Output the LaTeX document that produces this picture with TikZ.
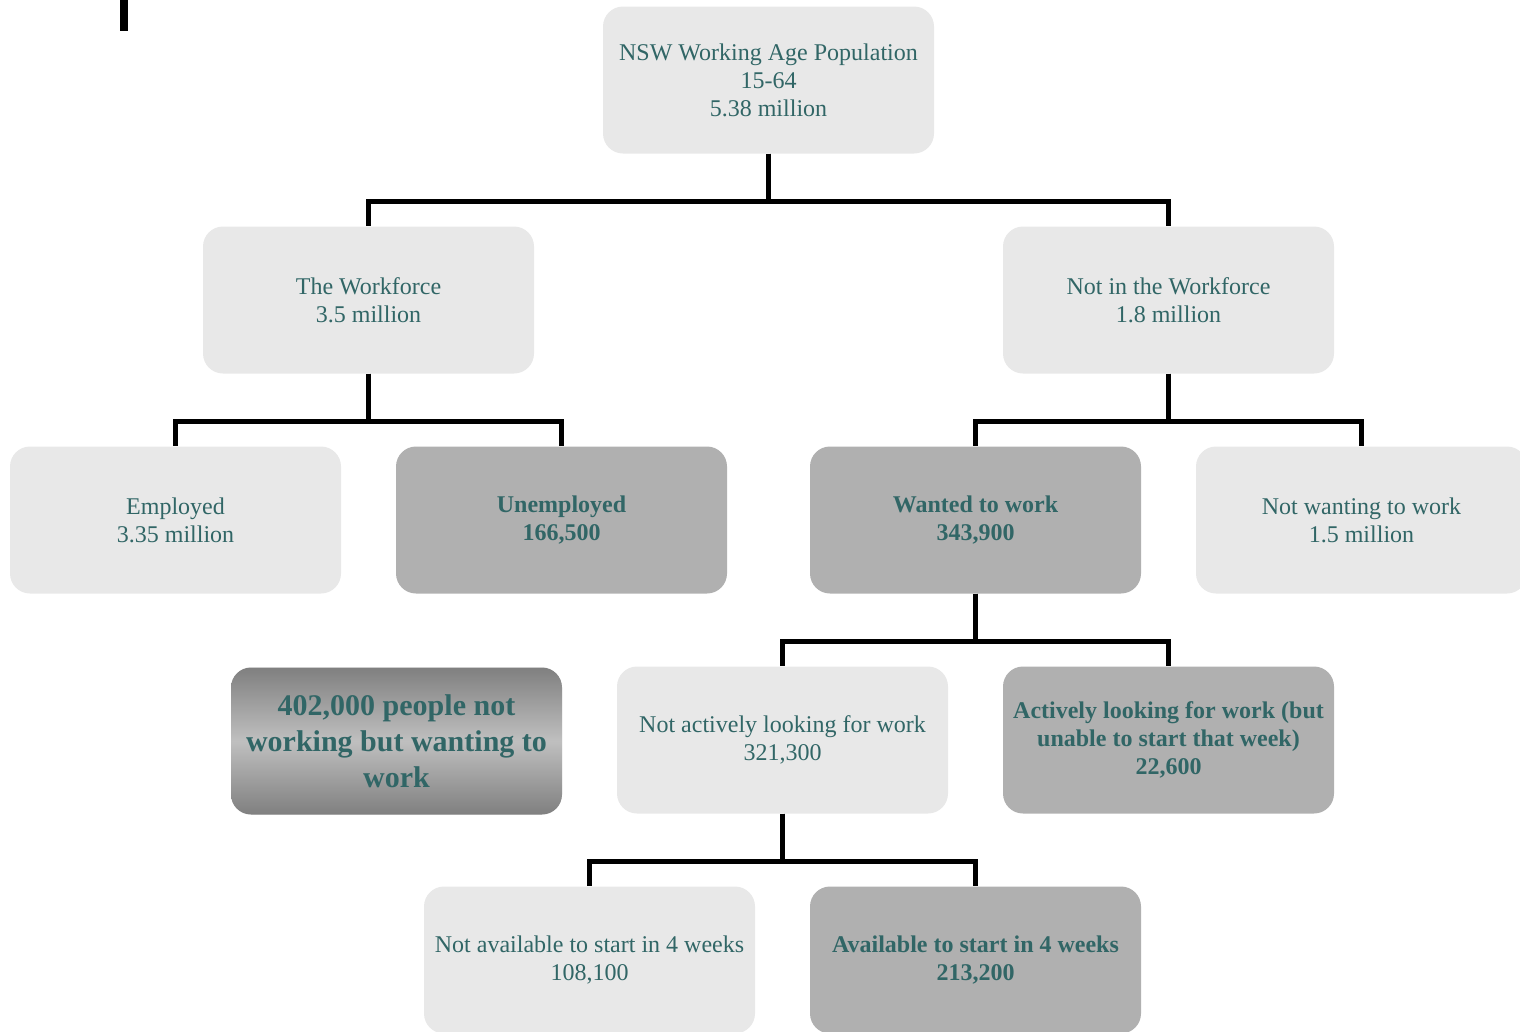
\documentclass[tikz,border=0pt]{standalone}
\usepackage{fontspec}
\setmainfont{Liberation Serif}
\usepackage{tikz}

\definecolor{boxtext}{HTML}{316666}
\definecolor{boxlight}{HTML}{E8E8E8}
\definecolor{boxdark}{HTML}{B0B0B0}

\begin{document}
\begin{tikzpicture}
[x=1pt, y=1pt,
level distance=220pt,
every node/.style={rounded corners=20pt, minimum width=331pt, minimum height=147pt,
  inner sep=2pt, align=center, text=boxtext, fill=boxlight,
  font=\rmfamily\fontsize{24}{28}\selectfont},
level 1/.style={sibling distance=800pt},
level 2/.style={sibling distance=386pt},
level 3/.style={sibling distance=386pt},
level 4/.style={sibling distance=386pt},
dark/.style={fill=boxdark, font=\rmfamily\fontsize{24}{28}\selectfont\bfseries},
edge from parent/.style={draw, black, line width=5pt},
edge from parent path={(\tikzparentnode.south) |- ([yshift=25pt]\tikzchildnode.north) -- (\tikzchildnode.north)}]

\useasboundingbox (0,0) rectangle (1520,-1031);
\fill[black] (120,0) rectangle (128,-31);

\node (pop) at (768.5,-80) {NSW Working Age Population\\15-64\\5.38 million}
child {node (wf) {The Workforce\\3.5 million}
    child {node (emp) {Employed\\3.35 million}}
    child {node[dark] (unemp) {Unemployed\\166,500}}
}
child {node (nwf) {Not in the Workforce\\1.8 million}
    child {node[dark] (want) {Wanted to work\\343,900}
     child {node (notact) {Not actively looking for work\\321,300}
      child {node (notavail) {Not available to start in 4 weeks\\108,100}}
      child {node[dark] (avail) {Available to start in 4 weeks\\213,200}}
     }
     child {node[dark] (act) {Actively looking for work (but\\unable to start that week)\\22,600}}
    }
    child {node (notwant) {Not wanting to work\\1.5 million}}
};

% summary box
\node[top color=black!50, bottom color=black!50, middle color=black!25,
  font=\rmfamily\fontsize{30}{36}\selectfont\bfseries] (summary) at (396.5,-741)
  {402,000 people not\\working but wanting to\\work};
\end{tikzpicture}
\end{document}
